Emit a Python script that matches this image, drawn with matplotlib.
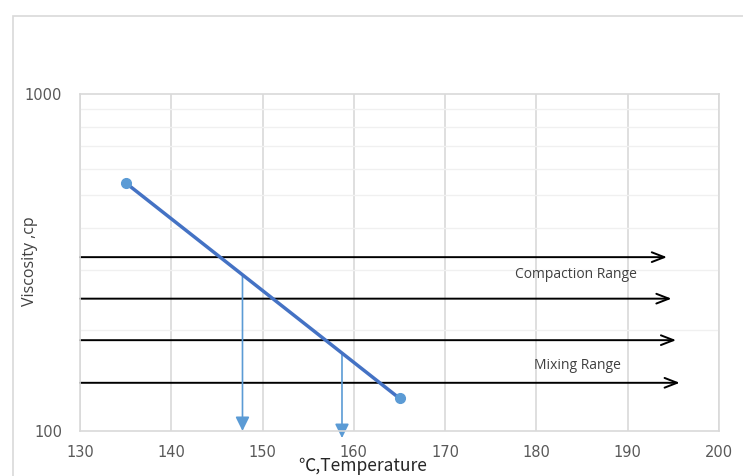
import matplotlib
matplotlib.use("Agg")
import matplotlib.pyplot as plt
from matplotlib.patches import Rectangle

# Data
temps = [135, 165]
viscosity = [545, 125]

# Horizontal range arrows: (y value, x start, x end)
h_arrow_y = [328, 247, 186, 139]
h_arrow_x0 = [130, 130, 130, 130]
h_arrow_x1 = [194.3, 194.8, 195.3, 195.7]

# Vertical arrows: (x, y start, y end)
v_arrow_x = [147.8, 158.7]
v_arrow_y0 = [288, 169]
v_arrow_y1 = [100, 95.3]

range_labels = ["Compaction Range", "Mixing Range"]
range_label_x = [184.3, 184.5]
range_label_y = [292, 156]

xticks = [130, 140, 150, 160, 170, 180, 190, 200]
yticks = [100, 1000]

W, H = 743, 476
fig = plt.figure(figsize=(W / 100, H / 100), dpi=100)
fig.patch.set_facecolor("white")

# outer chart frame
fig.patches.append(Rectangle((13 / W, -0.1), 1.2, 1 - 16 / H + 0.1, transform=fig.transFigure,
                             fill=False, edgecolor="#D9D9D9", linewidth=1.2))

ax = fig.add_axes([80 / W, 1 - 431 / H, (719 - 80) / W, (431 - 94) / H])
ax.set_yscale("log")
ax.set_xlim(130, 200)
ax.set_ylim(100, 1000)

ax.set_xticks(xticks)
ax.set_xticklabels([str(t) for t in xticks])
ax.set_yticks(yticks)
ax.set_yticklabels([str(t) for t in yticks])
ax.yaxis.set_minor_formatter(matplotlib.ticker.NullFormatter())
ax.yaxis.set_minor_locator(matplotlib.ticker.LogLocator(base=10, subs=range(2, 10)))
ax.tick_params(axis="both", which="both", length=0, labelsize=10.5, colors="#595959", pad=10)
ax.tick_params(axis="y", pad=13)

ax.grid(True, which="major", axis="x", color="#D9D9D9", linewidth=1.2)
ax.grid(True, which="minor", axis="y", color="#F0F0F0", linewidth=1.0)
ax.set_axisbelow(True)
for s in ax.spines.values():
    s.set_color("#D9D9D9")
    s.set_linewidth(1.2)

# main line
ax.plot(temps, viscosity, color="#4472C4", linewidth=2.5, zorder=3)
ax.plot(temps, viscosity, linestyle="none", marker="o", markersize=7,
        color="#5B9BD5", zorder=4)

# horizontal arrows
for y, x0, x1 in zip(h_arrow_y, h_arrow_x0, h_arrow_x1):
    a = ax.annotate("", xy=(x1, y), xytext=(x0, y), annotation_clip=False,
                    arrowprops=dict(arrowstyle="->,head_length=0.9,head_width=0.35",
                                    color="black", lw=1.4, shrinkA=0, shrinkB=0), zorder=2)
    a.arrow_patch.set_clip_on(False)

# vertical arrows
for x, y0, y1 in zip(v_arrow_x, v_arrow_y0, v_arrow_y1):
    a = ax.annotate("", xy=(x, y1), xytext=(x, y0), annotation_clip=False,
                    arrowprops=dict(arrowstyle="-|>,head_length=0.85,head_width=0.42",
                                    color="#5B9BD5", lw=1.2, shrinkA=0, shrinkB=0), zorder=2)
    a.arrow_patch.set_clip_on(False)

for txt, x, y in zip(range_labels, range_label_x, range_label_y):
    ax.text(x, y, txt, ha="center", va="center", fontsize=10, color="#404040",
            family="Open Sans")

fig.text(30 / W, 1 - 261 / H, "Viscosity ,cp", rotation=90, ha="center", va="center",
         fontsize=11.5, color="#404040", family="Open Sans")
fig.text(363 / W, 1 - 466 / H, "℃,Temperature", ha="center", va="center",
         fontsize=12.5, color="#262626", family=["Noto Sans CJK SC", "DejaVu Sans"])

fig.savefig("out.png", dpi=100)
